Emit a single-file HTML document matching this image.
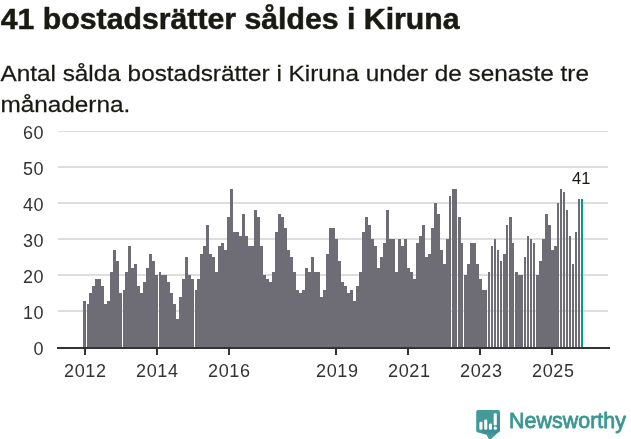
<!DOCTYPE html>
<html><head><meta charset="utf-8"><style>
html,body{margin:0;padding:0;background:#fff;}
body{width:631px;height:439px;overflow:hidden;position:relative;font-family:"Liberation Sans",sans-serif;}
.title{font-family:"Liberation Sans",sans-serif;font-size:29.5px;font-weight:bold;fill:#1a1a14;stroke:#1a1a14;stroke-width:0.5px;}
.sub{font-family:"Liberation Sans",sans-serif;font-size:22.8px;fill:#1a1a14;stroke:#1a1a14;stroke-width:0.25px;}
svg{position:absolute;left:0;top:0;will-change:transform;}
.ax{font-family:"Liberation Sans",sans-serif;font-size:18px;fill:#333;letter-spacing:0.6px;}
.val{font-family:"Liberation Sans",sans-serif;font-size:16.5px;fill:#1a1a14;}
.logo{font-family:"Liberation Sans",sans-serif;font-size:21.4px;fill:#3a9793;stroke:#3a9793;stroke-width:0.8px;stroke-linejoin:round;letter-spacing:0.05px;}
</style></head><body>
<svg width="631" height="439" viewBox="0 0 631 439">
<text x="0.8" y="29" class="title" textLength="458.8" lengthAdjust="spacingAndGlyphs">41 bostadsrätter såldes i Kiruna</text>
<g transform="translate(0.4,0) scale(1.068,1)"><text x="0" y="81.3" class="sub">Antal sålda bostadsrätter i Kiruna under de senaste tre</text>
<text x="0" y="112.5" class="sub">månaderna.</text></g>
<g shape-rendering="crispEdges">
<rect x="58" y="131" width="550" height="1" fill="#dedede"/><rect x="58" y="166" width="550" height="2" fill="#dedede"/><rect x="58" y="202" width="550" height="2" fill="#dedede"/><rect x="58" y="238" width="550" height="2" fill="#dedede"/><rect x="58" y="274" width="550" height="2" fill="#dedede"/><rect x="58" y="310" width="550" height="2" fill="#dedede"/>
<rect x="83" y="301" width="3" height="47" fill="#6e6d75"/><rect x="87" y="304" width="2" height="44" fill="#6e6d75"/><rect x="89" y="293" width="3" height="55" fill="#6e6d75"/><rect x="92" y="286" width="3" height="62" fill="#6e6d75"/><rect x="95" y="279" width="3" height="69" fill="#6e6d75"/><rect x="98" y="279" width="3" height="69" fill="#6e6d75"/><rect x="101" y="286" width="3" height="62" fill="#6e6d75"/><rect x="104" y="304" width="3" height="44" fill="#6e6d75"/><rect x="107" y="301" width="3" height="47" fill="#6e6d75"/><rect x="110" y="272" width="3" height="76" fill="#6e6d75"/><rect x="113" y="250" width="3" height="98" fill="#6e6d75"/><rect x="116" y="261" width="3" height="87" fill="#6e6d75"/><rect x="119" y="293" width="3" height="55" fill="#6e6d75"/><rect x="123" y="290" width="2" height="58" fill="#6e6d75"/><rect x="125" y="272" width="3" height="76" fill="#6e6d75"/><rect x="128" y="246" width="3" height="102" fill="#6e6d75"/><rect x="131" y="268" width="3" height="80" fill="#6e6d75"/><rect x="134" y="264" width="3" height="84" fill="#6e6d75"/><rect x="137" y="286" width="3" height="62" fill="#6e6d75"/><rect x="140" y="293" width="3" height="55" fill="#6e6d75"/><rect x="143" y="282" width="3" height="66" fill="#6e6d75"/><rect x="146" y="268" width="3" height="80" fill="#6e6d75"/><rect x="149" y="254" width="3" height="94" fill="#6e6d75"/><rect x="152" y="261" width="3" height="87" fill="#6e6d75"/><rect x="155" y="275" width="3" height="73" fill="#6e6d75"/><rect x="159" y="272" width="2" height="76" fill="#6e6d75"/><rect x="161" y="275" width="3" height="73" fill="#6e6d75"/><rect x="164" y="275" width="3" height="73" fill="#6e6d75"/><rect x="167" y="282" width="3" height="66" fill="#6e6d75"/><rect x="170" y="293" width="3" height="55" fill="#6e6d75"/><rect x="173" y="304" width="3" height="44" fill="#6e6d75"/><rect x="176" y="319" width="3" height="29" fill="#6e6d75"/><rect x="179" y="297" width="3" height="51" fill="#6e6d75"/><rect x="182" y="279" width="3" height="69" fill="#6e6d75"/><rect x="185" y="257" width="3" height="91" fill="#6e6d75"/><rect x="188" y="275" width="3" height="73" fill="#6e6d75"/><rect x="191" y="279" width="3" height="69" fill="#6e6d75"/><rect x="195" y="290" width="2" height="58" fill="#6e6d75"/><rect x="197" y="279" width="3" height="69" fill="#6e6d75"/><rect x="200" y="254" width="3" height="94" fill="#6e6d75"/><rect x="203" y="246" width="3" height="102" fill="#6e6d75"/><rect x="206" y="225" width="3" height="123" fill="#6e6d75"/><rect x="209" y="254" width="3" height="94" fill="#6e6d75"/><rect x="212" y="257" width="3" height="91" fill="#6e6d75"/><rect x="215" y="272" width="3" height="76" fill="#6e6d75"/><rect x="218" y="246" width="3" height="102" fill="#6e6d75"/><rect x="221" y="243" width="3" height="105" fill="#6e6d75"/><rect x="224" y="250" width="3" height="98" fill="#6e6d75"/><rect x="227" y="217" width="3" height="131" fill="#6e6d75"/><rect x="230" y="189" width="3" height="159" fill="#6e6d75"/><rect x="233" y="232" width="3" height="116" fill="#6e6d75"/><rect x="236" y="232" width="3" height="116" fill="#6e6d75"/><rect x="239" y="236" width="3" height="112" fill="#6e6d75"/><rect x="242" y="214" width="3" height="134" fill="#6e6d75"/><rect x="245" y="236" width="3" height="112" fill="#6e6d75"/><rect x="248" y="246" width="3" height="102" fill="#6e6d75"/><rect x="251" y="246" width="3" height="102" fill="#6e6d75"/><rect x="254" y="210" width="3" height="138" fill="#6e6d75"/><rect x="257" y="217" width="3" height="131" fill="#6e6d75"/><rect x="260" y="246" width="3" height="102" fill="#6e6d75"/><rect x="263" y="275" width="3" height="73" fill="#6e6d75"/><rect x="266" y="279" width="3" height="69" fill="#6e6d75"/><rect x="269" y="282" width="3" height="66" fill="#6e6d75"/><rect x="272" y="272" width="3" height="76" fill="#6e6d75"/><rect x="275" y="232" width="3" height="116" fill="#6e6d75"/><rect x="278" y="214" width="3" height="134" fill="#6e6d75"/><rect x="281" y="217" width="3" height="131" fill="#6e6d75"/><rect x="284" y="228" width="3" height="120" fill="#6e6d75"/><rect x="287" y="250" width="3" height="98" fill="#6e6d75"/><rect x="290" y="257" width="3" height="91" fill="#6e6d75"/><rect x="293" y="272" width="3" height="76" fill="#6e6d75"/><rect x="296" y="290" width="3" height="58" fill="#6e6d75"/><rect x="299" y="293" width="3" height="55" fill="#6e6d75"/><rect x="302" y="290" width="3" height="58" fill="#6e6d75"/><rect x="305" y="268" width="3" height="80" fill="#6e6d75"/><rect x="308" y="272" width="3" height="76" fill="#6e6d75"/><rect x="311" y="257" width="3" height="91" fill="#6e6d75"/><rect x="314" y="272" width="3" height="76" fill="#6e6d75"/><rect x="317" y="272" width="3" height="76" fill="#6e6d75"/><rect x="320" y="297" width="3" height="51" fill="#6e6d75"/><rect x="323" y="290" width="3" height="58" fill="#6e6d75"/><rect x="326" y="254" width="3" height="94" fill="#6e6d75"/><rect x="329" y="228" width="3" height="120" fill="#6e6d75"/><rect x="332" y="228" width="3" height="120" fill="#6e6d75"/><rect x="335" y="239" width="3" height="109" fill="#6e6d75"/><rect x="338" y="261" width="3" height="87" fill="#6e6d75"/><rect x="341" y="282" width="3" height="66" fill="#6e6d75"/><rect x="344" y="286" width="3" height="62" fill="#6e6d75"/><rect x="347" y="293" width="3" height="55" fill="#6e6d75"/><rect x="350" y="290" width="3" height="58" fill="#6e6d75"/><rect x="353" y="301" width="3" height="47" fill="#6e6d75"/><rect x="356" y="286" width="3" height="62" fill="#6e6d75"/><rect x="359" y="272" width="3" height="76" fill="#6e6d75"/><rect x="362" y="232" width="3" height="116" fill="#6e6d75"/><rect x="365" y="217" width="3" height="131" fill="#6e6d75"/><rect x="368" y="225" width="3" height="123" fill="#6e6d75"/><rect x="371" y="239" width="3" height="109" fill="#6e6d75"/><rect x="374" y="246" width="3" height="102" fill="#6e6d75"/><rect x="377" y="268" width="3" height="80" fill="#6e6d75"/><rect x="380" y="257" width="3" height="91" fill="#6e6d75"/><rect x="383" y="243" width="3" height="105" fill="#6e6d75"/><rect x="386" y="210" width="3" height="138" fill="#6e6d75"/><rect x="389" y="239" width="3" height="109" fill="#6e6d75"/><rect x="392" y="239" width="3" height="109" fill="#6e6d75"/><rect x="395" y="272" width="3" height="76" fill="#6e6d75"/><rect x="398" y="239" width="3" height="109" fill="#6e6d75"/><rect x="401" y="246" width="3" height="102" fill="#6e6d75"/><rect x="404" y="239" width="3" height="109" fill="#6e6d75"/><rect x="407" y="268" width="3" height="80" fill="#6e6d75"/><rect x="410" y="272" width="3" height="76" fill="#6e6d75"/><rect x="413" y="279" width="3" height="69" fill="#6e6d75"/><rect x="416" y="243" width="3" height="105" fill="#6e6d75"/><rect x="419" y="236" width="3" height="112" fill="#6e6d75"/><rect x="422" y="225" width="3" height="123" fill="#6e6d75"/><rect x="425" y="257" width="3" height="91" fill="#6e6d75"/><rect x="428" y="254" width="3" height="94" fill="#6e6d75"/><rect x="431" y="228" width="3" height="120" fill="#6e6d75"/><rect x="434" y="203" width="3" height="145" fill="#6e6d75"/><rect x="437" y="214" width="3" height="134" fill="#6e6d75"/><rect x="440" y="250" width="3" height="98" fill="#6e6d75"/><rect x="443" y="264" width="3" height="84" fill="#6e6d75"/><rect x="446" y="239" width="3" height="109" fill="#6e6d75"/><rect x="449" y="196" width="2" height="152" fill="#6e6d75"/><rect x="452" y="189" width="3" height="159" fill="#6e6d75"/><rect x="455" y="189" width="2" height="159" fill="#6e6d75"/><rect x="458" y="217" width="3" height="131" fill="#6e6d75"/><rect x="461" y="243" width="2" height="105" fill="#6e6d75"/><rect x="464" y="275" width="3" height="73" fill="#6e6d75"/><rect x="467" y="264" width="3" height="84" fill="#6e6d75"/><rect x="470" y="243" width="3" height="105" fill="#6e6d75"/><rect x="473" y="243" width="3" height="105" fill="#6e6d75"/><rect x="476" y="264" width="3" height="84" fill="#6e6d75"/><rect x="479" y="279" width="3" height="69" fill="#6e6d75"/><rect x="482" y="290" width="3" height="58" fill="#6e6d75"/><rect x="485" y="290" width="2" height="58" fill="#6e6d75"/><rect x="488" y="272" width="2" height="76" fill="#6e6d75"/><rect x="491" y="246" width="2" height="102" fill="#6e6d75"/><rect x="494" y="239" width="2" height="109" fill="#6e6d75"/><rect x="497" y="250" width="2" height="98" fill="#6e6d75"/><rect x="500" y="261" width="2" height="87" fill="#6e6d75"/><rect x="503" y="254" width="3" height="94" fill="#6e6d75"/><rect x="506" y="225" width="2" height="123" fill="#6e6d75"/><rect x="509" y="217" width="3" height="131" fill="#6e6d75"/><rect x="512" y="243" width="2" height="105" fill="#6e6d75"/><rect x="515" y="272" width="3" height="76" fill="#6e6d75"/><rect x="518" y="275" width="3" height="73" fill="#6e6d75"/><rect x="521" y="275" width="2" height="73" fill="#6e6d75"/><rect x="524" y="257" width="2" height="91" fill="#6e6d75"/><rect x="527" y="236" width="2" height="112" fill="#6e6d75"/><rect x="530" y="239" width="2" height="109" fill="#6e6d75"/><rect x="533" y="243" width="2" height="105" fill="#6e6d75"/><rect x="536" y="275" width="3" height="73" fill="#6e6d75"/><rect x="539" y="261" width="3" height="87" fill="#6e6d75"/><rect x="542" y="239" width="3" height="109" fill="#6e6d75"/><rect x="545" y="214" width="3" height="134" fill="#6e6d75"/><rect x="548" y="225" width="3" height="123" fill="#6e6d75"/><rect x="551" y="250" width="3" height="98" fill="#6e6d75"/><rect x="554" y="246" width="3" height="102" fill="#6e6d75"/><rect x="557" y="203" width="2" height="145" fill="#6e6d75"/><rect x="560" y="189" width="2" height="159" fill="#6e6d75"/><rect x="563" y="192" width="2" height="156" fill="#6e6d75"/><rect x="566" y="210" width="2" height="138" fill="#6e6d75"/><rect x="569" y="236" width="2" height="112" fill="#6e6d75"/><rect x="572" y="264" width="2" height="84" fill="#6e6d75"/><rect x="575" y="232" width="2" height="116" fill="#6e6d75"/><rect x="578" y="199" width="2" height="149" fill="#6e6d75"/><rect x="581" y="199" width="2" height="149" fill="#009e8f"/>
<rect x="57" y="347" width="553" height="2" fill="#333"/>
<rect x="84" y="349" width="2" height="6" fill="#333"/><rect x="156" y="349" width="2" height="6" fill="#333"/><rect x="228" y="349" width="2" height="6" fill="#333"/><rect x="335" y="349" width="2" height="6" fill="#333"/><rect x="407" y="349" width="2" height="6" fill="#333"/><rect x="479" y="349" width="2" height="6" fill="#333"/><rect x="551" y="349" width="2" height="6" fill="#333"/>
</g>
<text x="85.3" y="377.2" text-anchor="middle" class="ax">2012</text><text x="157.3" y="377.2" text-anchor="middle" class="ax">2014</text><text x="229.3" y="377.2" text-anchor="middle" class="ax">2016</text><text x="337.3" y="377.2" text-anchor="middle" class="ax">2019</text><text x="409.3" y="377.2" text-anchor="middle" class="ax">2021</text><text x="481.3" y="377.2" text-anchor="middle" class="ax">2023</text><text x="553.3" y="377.2" text-anchor="middle" class="ax">2025</text>
<text x="44.2" y="138.9" text-anchor="end" class="ax">60</text><text x="44.2" y="174.9" text-anchor="end" class="ax">50</text><text x="44.2" y="210.9" text-anchor="end" class="ax">40</text><text x="44.2" y="246.9" text-anchor="end" class="ax">30</text><text x="44.2" y="282.90000000000003" text-anchor="end" class="ax">20</text><text x="44.2" y="318.90000000000003" text-anchor="end" class="ax">10</text><text x="44.2" y="354.8" text-anchor="end" class="ax">0</text>
<text x="581.3" y="183.5" text-anchor="middle" class="val">41</text>
<g id="logo">
<defs><clipPath id="bub"><path d="M478.2 410 H498 a2 2 0 0 1 2 2 V430.5 a2 2 0 0 1 -2 2 L489.6 440.5 L486.6 434.8 L478.2 432.5 a2 2 0 0 1 -2 -2 V412 a2 2 0 0 1 2 -2 Z"/></clipPath></defs>
<path d="M478.2 410 H498 a2 2 0 0 1 2 2 V430.5 a2 2 0 0 1 -2 2 L489.6 440.5 L486.6 434.8 L478.2 432.5 a2 2 0 0 1 -2 -2 V412 a2 2 0 0 1 2 -2 Z" fill="#419b98"/>
<g clip-path="url(#bub)" fill="#2d6f92" fill-opacity="0.28">
<path d="M482.4 422.5 L488.4 428.5 L485.8 435.2 L479.8 429.2 Z M487.3 420.4 L493.3 426.4 L490.6 435.2 L484.6 429.2 Z M491.9 424.5 L497.9 430.5 L495.3 435.2 L489.3 429.2 Z M496.7 413.8 L502.7 419.8 L502.7 435.3 L500 435.3 L494 429.3 Z"/>
</g>
<rect x="479.4" y="421.7" width="3.1" height="8.1" rx="1.3" fill="#fff"/>
<rect x="484.2" y="419.6" width="3.1" height="10.2" rx="1.3" fill="#fff"/>
<rect x="488.9" y="423.5" width="3.1" height="6.3" rx="1.3" fill="#fff"/>
<rect x="493.7" y="413.2" width="3.1" height="12.4" rx="1.3" fill="#fff"/>
<rect x="493.6" y="426.6" width="3.3" height="3.2" rx="1.5" fill="#fff"/>
<text x="509" y="428.2" class="logo">Newsworthy</text>
</g>
</svg>
</body></html>
